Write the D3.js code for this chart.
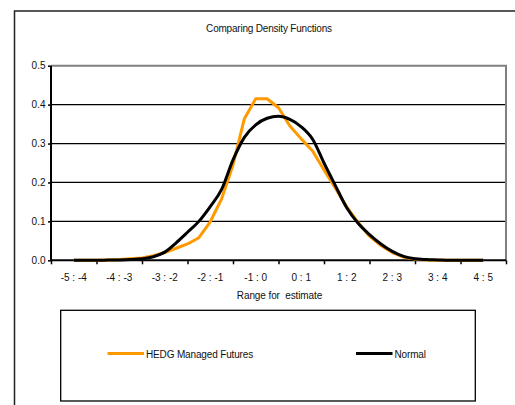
<!DOCTYPE html>
<html><head><meta charset="utf-8">
<script src="https://cdn.jsdelivr.net/npm/d3@7"></script>
<style>body{margin:0;background:#fff}svg{display:block}text{font-family:"Liberation Sans",Arial,sans-serif}</style>
</head><body>
<svg id="c" width="515" height="405"></svg>
<script>
const title = "Comparing Density Functions";
const xTitle = "Range for  estimate";
const categories = ["-5 : -4","-4 : -3","-3 : -2","-2 : -1","-1 : 0","0 : 1","1 : 2","2 : 3","3 : 4","4 : 5"];
const catBounds = [-5,-4,-3,-2,-1,0,1,2,3,4,5];
const yTicks = [0,0.1,0.2,0.3,0.4,0.5];
const xs = [-4.5,-4.25,-4,-3.75,-3.5,-3.25,-3,-2.75,-2.5,-2.25,-2,-1.75,-1.5,-1.25,-1,-0.75,-0.5,-0.25,0,0.25,0.5,0.75,1,1.25,1.5,1.75,2,2.25,2.5,2.75,3,3.25,3.5,3.75,4,4.25,4.5];
const hedg = [0,0,0,0.001,0.002,0.004,0.006,0.012,0.02,0.031,0.042,0.058,0.099,0.158,0.245,0.364,0.415,0.415,0.392,0.345,0.312,0.281,0.232,0.185,0.137,0.097,0.062,0.038,0.02,0.008,0.003,0.001,0,0,0,0,0];
const normal = [0,0,0,0.0005,0.001,0.002,0.004,0.009,0.021,0.045,0.072,0.1,0.138,0.182,0.258,0.316,0.348,0.365,0.37,0.362,0.343,0.311,0.25,0.192,0.135,0.095,0.066,0.042,0.023,0.01,0.004,0.002,0.001,0,0,0,0];
const seriesNames = ["HEDG Managed Futures","Normal"];
const seriesColors = ["#FF9900","#000000"];

const svg = d3.select("#c");
// outer frame
svg.append("rect").attr("x",14.5).attr("y",11).attr("width",520).attr("height",420)
  .attr("fill","none").attr("stroke","#222").attr("stroke-width",1.5);

const L=51, R=506, T=65.7, B=260.3;
const x = d3.scaleLinear().domain([-5,5]).range([L,R]);
const y = d3.scaleLinear().domain([0,0.5]).range([B,T]);

// title
svg.append("text").attr("x",269).attr("y",31.5).attr("text-anchor","middle")
  .attr("font-size",10).attr("fill","#111").attr("letter-spacing",-0.2).text(title);

// gridlines
svg.append("g").selectAll("line").data(yTicks.filter(d=>d>0&&d<0.5)).join("line")
  .attr("x1",L).attr("x2",R).attr("y1",d=>y(d)).attr("y2",d=>y(d))
  .attr("stroke","#000").attr("stroke-width",1.2);
// plot border top/right gray
svg.append("path").attr("d",`M${L},${T}H${R}V${B}`).attr("fill","none")
  .attr("stroke","#808080").attr("stroke-width",2);

// y axis
const yAxis = d3.axisLeft(y).tickValues(yTicks).tickSize(3).tickFormat(d3.format(".1f"));
const gy = svg.append("g").attr("transform",`translate(${L},0)`).call(yAxis);
gy.select(".domain").attr("stroke","#000").attr("stroke-width",2).attr("d",`M0,${T}V${B}`);
gy.selectAll(".tick line").attr("stroke","#000").attr("stroke-width",1.5);
gy.selectAll(".tick text").attr("font-size",10).attr("fill","#111").attr("font-family","Liberation Sans, Arial, sans-serif").attr("x",-5.5);

// x axis
const xAxis = d3.axisBottom(x).tickValues(catBounds).tickSize(4).tickFormat("");
const gx = svg.append("g").attr("transform",`translate(0,${B})`).call(xAxis);
gx.select(".domain").attr("stroke","#000").attr("stroke-width",2).attr("d",`M${L},0H${R}`);
gx.selectAll(".tick line").attr("stroke","#000").attr("stroke-width",1.5);
svg.append("g").selectAll("text").data(categories).join("text")
  .attr("x",(d,i)=>x((catBounds[i]+catBounds[i+1])/2)).attr("y",281)
  .attr("text-anchor","middle").attr("font-size",10).attr("fill","#111").text(d=>d);
svg.append("text").attr("x",279.5).attr("y",298.5).attr("text-anchor","middle")
  .attr("font-size",10).attr("fill","#111").style("white-space","pre").attr("letter-spacing",-0.1).text(xTitle);

// series
const lineLin = d3.line().x((d,i)=>x(xs[i])).y(d=>y(d));
const lineSm = d3.line().x((d,i)=>x(xs[i])).y(d=>y(d)).curve(d3.curveMonotoneX);
svg.append("path").datum(hedg).attr("d",lineLin).attr("fill","none")
  .attr("stroke",seriesColors[0]).attr("stroke-width",3).attr("stroke-linejoin","round");
svg.append("path").datum(normal).attr("d",lineSm).attr("fill","none")
  .attr("stroke",seriesColors[1]).attr("stroke-width",3).attr("stroke-linejoin","round");

// legend
svg.append("rect").attr("x",60.7).attr("y",310.3).attr("width",414.6).attr("height",90.7)
  .attr("fill","#fff").attr("stroke","#000").attr("stroke-width",1.3);
const legX = [107.5, 356];
seriesNames.forEach((n,i)=>{
  svg.append("line").attr("x1",legX[i]).attr("x2",legX[i]+36.5).attr("y1",353.5).attr("y2",353.5)
    .attr("stroke",seriesColors[i]).attr("stroke-width",3);
  svg.append("text").attr("x",legX[i]+38.5).attr("y",357.5).attr("font-size",10).attr("fill","#111").attr("letter-spacing",-0.15).text(n);
});
</script>
</body></html>
